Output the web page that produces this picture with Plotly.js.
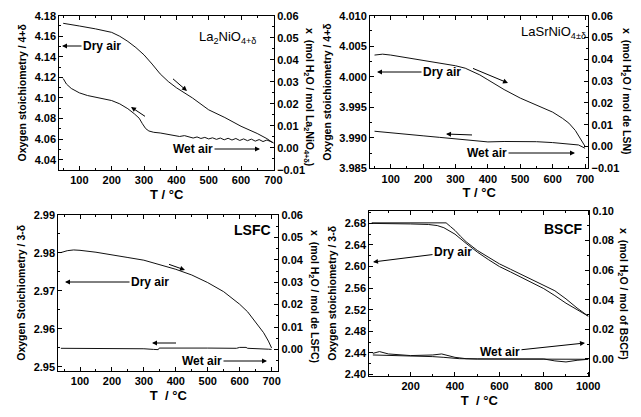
<!DOCTYPE html>
<html>
<head>
<meta charset="utf-8">
<script src="https://cdn.plot.ly/plotly-3.0.1.min.js"></script>
<style>html,body{margin:0;padding:0;background:#fff}#chart{width:641px;height:417px}</style>
</head>
<body>
<div id="chart"></div>
<script>
// ---------- data ----------
// Panel 1: La2NiO4+d
const p1DryT = [50,75,100,150,200,225,250,275,300,325,350,375,400,450,500,550,600,650,680,700];
const p1DryO = [4.1726,4.1715,4.1700,4.1672,4.1638,4.1600,4.1550,4.1490,4.1419,4.1330,4.1234,4.1160,4.1100,4.1000,4.0885,4.0810,4.0725,4.0655,4.0605,4.0562];
const p1WetT = [50,60,75,100,125,150,175,200,225,250,270,285,295,305,315,330,350,370,390,410,425,440,452,464,476,488,500,512,524,536,548,560,572,584,596,608,620,632,644,656,668,680,692,700];
const p1WetX = [0.0315,0.0290,0.0270,0.0250,0.0238,0.0230,0.0225,0.0215,0.0200,0.0178,0.0155,0.0135,0.0110,0.0088,0.0077,0.0071,0.0068,0.0062,0.0058,0.0052,0.0056,0.0050,0.0045,0.0050,0.0043,0.0048,0.0041,0.0046,0.0039,0.0045,0.0037,0.0044,0.0036,0.0043,0.0034,0.0041,0.0033,0.0040,0.0031,0.0038,0.0029,0.0036,0.0027,0.0024];
// Panel 2: LaSrNiO4+-d
const p2DryT = [50,75,100,150,200,250,300,330,350,375,400,450,500,550,600,630,650,670,685,700];
const p2DryO = [4.00355,4.0037,4.00355,4.0031,4.0027,4.00225,4.0018,4.0014,4.0009,4.0003,3.9995,3.9979,3.9965,3.9954,3.9942,3.9932,3.9924,3.9912,3.9899,3.9886];
const p2WetT = [50,100,150,200,250,300,350,400,450,500,550,600,650,680,700];
const p2WetX = [0.0070,0.0062,0.0056,0.0049,0.0042,0.0034,0.0027,0.0021,0.0023,0.0024,0.0022,0.0018,0.0012,0.0007,-0.0008];
// Panel 3: LSFC
const p3DryT = [40,60,80,100,150,200,250,300,350,400,450,500,550,600,625,650,675,690,700];
const p3DryO = [2.9801,2.9806,2.9808,2.9807,2.9802,2.9794,2.9788,2.9781,2.9769,2.9757,2.9742,2.9722,2.9698,2.9665,2.9645,2.9618,2.9590,2.9568,2.9550];
const p3WetT = [40,100,200,300,330,345,348,400,500,590,600,620,625,690,700];
const p3WetX = [0.0005,0.0005,0.0004,0.0003,0.0000,-0.0001,0.0006,0.0007,0.0006,0.0005,0.0009,0.0009,0.0005,0.0001,0.0000];
// Panel 4: BSCF (two dry-air runs, two wet-air runs)
const p4DryAT = [25,100,200,300,360,380,400,425,450,500,550,600,650,700,750,800,850,900,950,1000];
const p4DryAO = [2.681,2.681,2.681,2.681,2.681,2.674,2.667,2.656,2.646,2.630,2.617,2.605,2.595,2.585,2.576,2.566,2.555,2.540,2.523,2.508];
const p4DryBT = [25,100,200,280,320,350,380,400,450,500,550,600,650,700,750,800,850,900,950,1000];
const p4DryBO = [2.680,2.680,2.679,2.678,2.676,2.672,2.665,2.660,2.643,2.627,2.613,2.600,2.590,2.580,2.570,2.559,2.546,2.532,2.520,2.508];
const p4WetAT = [30,60,100,200,300,340,400,450,500,800,850,900,950,1000];
const p4WetAX = [0.0038,0.0050,0.0034,0.0023,0.0027,0.0034,0.0011,0.0002,0.0000,0.0000,-0.0013,-0.0020,-0.0009,-0.0002];
const p4WetBT = [30,100,200,300,350,420,500,700,800,900,1000];
const p4WetBX = [0.0027,0.0025,0.0020,0.0016,0.0011,0.0002,0.0000,0.0000,0.0002,0.0002,-0.0002];

// ---------- helpers ----------
const W = 641, H = 417;
const FONT = 'Arial, "Liberation Sans", sans-serif';
const px = v => v / W;
const py = v => 1 - v / H;
const line = {color: '#111', width: 1};

function xAx(dom, anchor, range, dtick, minor, title) {
  return {domain: dom, anchor: anchor, range: range, dtick: dtick, tick0: 0,
    showline: true, linecolor: '#000', linewidth: 1, mirror: 'ticks',
    ticks: 'inside', ticklen: 4, tickcolor: '#000', showgrid: false, zeroline: false,
    minor: {ticks: 'inside', ticklen: 2, dtick: minor, tickcolor: '#000', showgrid: false},
    tickfont: {family: FONT, size: 11, weight: 700, color: '#000'},
    title: {text: title, font: {family: FONT, size: 13, weight: 700, color: '#000'}, standoff: 4}};
}
function yLeft(dom, anchor, range, dtick, tick0, minor, fmt, title) {
  return {domain: dom, anchor: anchor, range: range, dtick: dtick, tick0: tick0, tickformat: fmt,
    showline: true, linecolor: '#000', linewidth: 1,
    ticks: 'inside', ticklen: 4, tickcolor: '#000', showgrid: false, zeroline: false,
    minor: {ticks: 'inside', ticklen: 2, dtick: minor, tickcolor: '#000', showgrid: false},
    tickfont: {family: FONT, size: 11, weight: 700, color: '#000'},
    title: {text: title, font: {family: FONT, size: 10.5, weight: 700, color: '#000'}, standoff: 5}};
}
function yRight(overlay, anchor, range, dtick, minor) {
  return {overlaying: overlay, side: 'right', anchor: anchor, range: range, dtick: dtick, tick0: 0,
    tickformat: '.2f', showline: true, linecolor: '#000', linewidth: 1,
    ticks: 'inside', ticklen: 4, tickcolor: '#000', showgrid: false, zeroline: false,
    minor: {ticks: 'inside', ticklen: 2, dtick: minor, tickcolor: '#000', showgrid: false},
    tickfont: {family: FONT, size: 11, weight: 700, color: '#000'}};
}
function tr(x, y, xa, ya, name) {
  return {x: x, y: y, xaxis: xa, yaxis: ya, type: 'scatter', mode: 'lines', line: line, name: name, showlegend: false};
}

const data = [
  tr(p1DryT, p1DryO, 'x', 'y', 'Dry air'),
  tr(p1WetT, p1WetX, 'x', 'y2', 'Wet air'),
  tr(p2DryT, p2DryO, 'x2', 'y3', 'Dry air'),
  tr(p2WetT, p2WetX, 'x2', 'y4', 'Wet air'),
  tr(p3DryT, p3DryO, 'x3', 'y5', 'Dry air'),
  tr(p3WetT, p3WetX, 'x3', 'y6', 'Wet air'),
  tr(p4DryAT, p4DryAO, 'x4', 'y7', 'Dry air'),
  tr(p4DryBT, p4DryBO, 'x4', 'y7', 'Dry air'),
  tr(p4WetAT, p4WetAX, 'x4', 'y8', 'Wet air'),
  tr(p4WetBT, p4WetBX, 'x4', 'y8', 'Wet air')
];

const d1x = [px(59.3), px(274)], d1y = [py(170), py(15.7)];
const d2x = [px(370), px(588.3)], d2y = [py(168.3), py(15.7)];
const d3x = [px(58.3), px(278.3)], d3y = [py(370.7), py(215)];
const d4x = [px(369.3), px(589.3)], d4y = [py(375.7), py(211)];

function txt(x, y, text, size, weight, angle) {
  return {xref: 'paper', yref: 'paper', x: px(x), y: py(y), text: text, showarrow: false,
    textangle: angle || 0, xanchor: 'center', yanchor: 'middle',
    font: {family: FONT, size: size, weight: weight, color: '#000'}};
}
function arr(hx, hy, ax, ay, text) {
  return {xref: 'paper', yref: 'paper', x: px(hx), y: py(hy), ax: ax, ay: ay,
    text: text || '&nbsp;', borderpad: text ? 1 : 0,
    showarrow: true, arrowhead: 2, arrowsize: 1, arrowwidth: 1, arrowcolor: '#000',
    font: {family: FONT, size: text ? 12 : 2, weight: 700, color: '#000'}};
}

const annotations = [
  txt(227, 38, 'La<sub>2</sub>NiO<sub>4+δ</sub>', 13, 400),
  txt(553, 33, 'LaSrNiO<sub>4±δ</sub>', 13, 400),
  txt(252, 230, 'LSFC', 14, 700),
  txt(563, 229, 'BSCF', 14, 700),
  txt(309, 97, 'x&nbsp; (mol H<sub>2</sub>O / mol La<sub>2</sub>NiO<sub>4+δ</sub>)', 10.5, 700, 90),
  txt(626, 91, 'x&nbsp; (mol H<sub>2</sub>O / mol de LSN)', 10.5, 700, 90),
  txt(314, 296, 'x&nbsp; (mol H<sub>2</sub>O / mol de LSFC)', 10.5, 700, 90),
  txt(623, 294, 'x&nbsp; (mol H<sub>2</sub>O / mol of BSCF)', 10.5, 700, 90),
  arr(62, 46, 40, 0, 'Dry air'),
  arr(260, 149, -67, 0, 'Wet air'),
  arr(187, 91, -15, -13),
  arr(131, 107, 15, 10),
  arr(377, 72, 65, 0, 'Dry air'),
  arr(575, 153, -88, 0, 'Wet air'),
  arr(508, 83, -36, -15),
  arr(446, 134, 27, 1),
  arr(65, 282, 85, 0, 'Dry air'),
  arr(267, 361, -65, 0, 'Wet air'),
  arr(185, 270, -17, -6),
  arr(152, 343, 25, 0),
  arr(373, 262, 80, -10, 'Dry air'),
  arr(585, 343, -85, 9, 'Wet air')
];

const layout = {
  width: W, height: H, margin: {l: 0, r: 0, t: 0, b: 0},
  paper_bgcolor: '#fff', plot_bgcolor: '#fff', showlegend: false,
  font: {family: FONT, color: '#000'},
  xaxis: xAx(d1x, 'y', [38, 702], 100, 50, 'T / °C'),
  yaxis: yLeft(d1y, 'x', [4.03, 4.18], 0.02, 4.04, 0.01, '.2f', 'Oxygen stoichiometry / 4+δ'),
  yaxis2: yRight('y', 'x', [-0.01, 0.06], 0.01, 0.005),
  xaxis2: xAx(d2x, 'y3', [36, 710], 100, 50, 'T / °C'),
  yaxis3: yLeft(d2y, 'x2', [3.985, 4.010], 0.005, 3.985, 0.0025, '.3f', 'Oxygen stoichiometry / 4+δ'),
  yaxis4: yRight('y3', 'x2', [-0.01, 0.06], 0.01, 0.005),
  xaxis3: xAx(d3x, 'y5', [32, 721], 100, 50, 'T &nbsp;/ °C'),
  yaxis5: yLeft(d3y, 'x3', [2.949, 2.99], 0.01, 2.95, 0.005, '.2f', 'Oxygen Stoichiometry / 3-δ'),
  yaxis6: yRight('y5', 'x3', [-0.0095, 0.06], 0.01, 0.005),
  xaxis4: xAx(d4x, 'y7', [14, 1005], 200, 100, 'T &nbsp;/ °C'),
  yaxis7: yLeft(d4y, 'x4', [2.3975, 2.703], 0.04, 2.40, 0.02, '.2f', 'Oxygen stoichiometry / 3-δ'),
  yaxis8: yRight('y7', 'x4', [-0.0113, 0.10], 0.02, 0.01),
  annotations: annotations
};

Plotly.newPlot('chart', data, layout, {staticPlot: true, displayModeBar: false});
</script>
</body>
</html>
